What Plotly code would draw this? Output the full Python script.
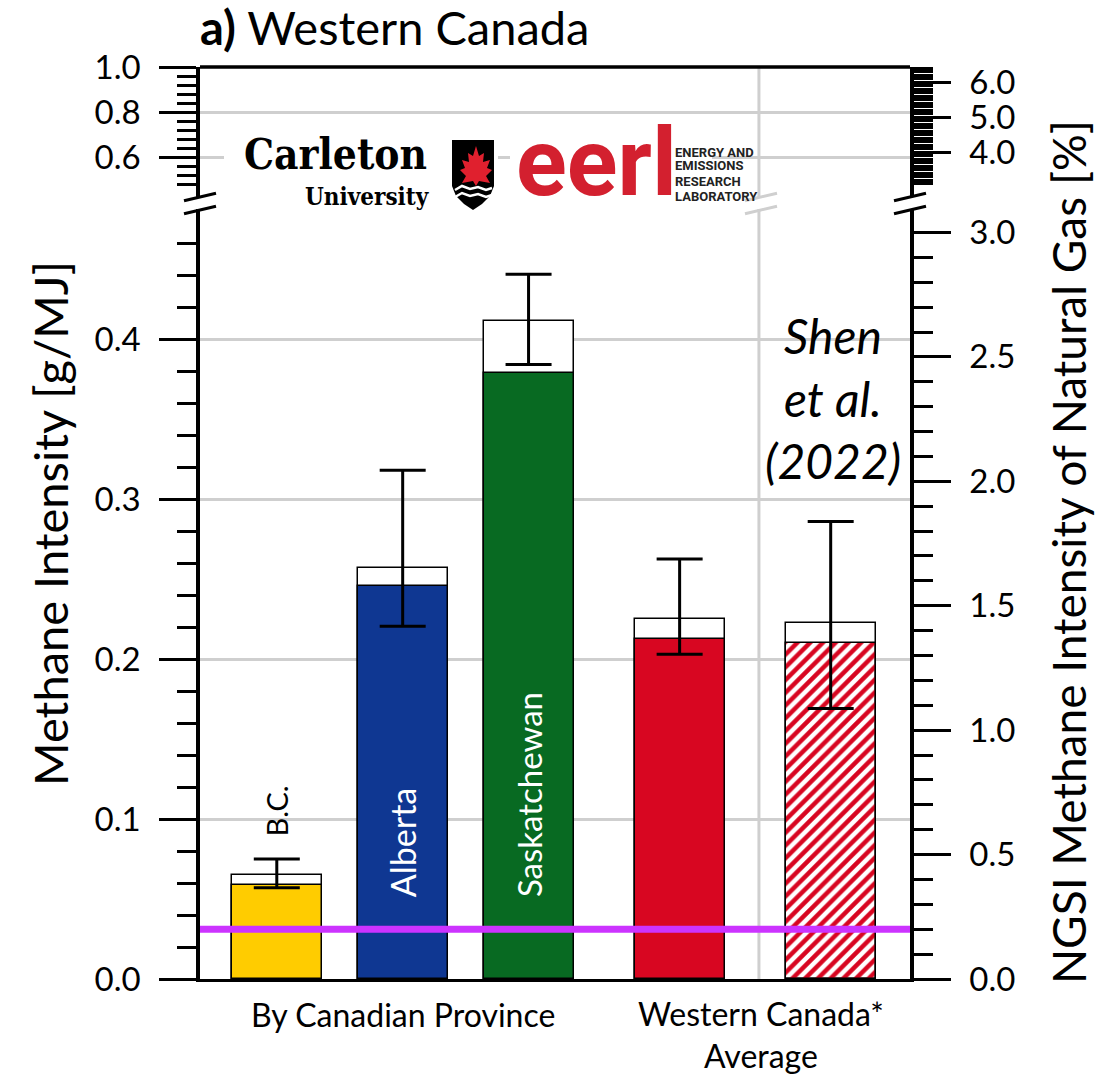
import numpy as np
import plotly.graph_objects as go

# ---- data -------------------------------------------------------------
categories = ["B.C.", "Alberta", "Saskatchewan", "Western Canada* Average", "Shen et al. (2022)"]
x_pos = [1.0, 2.0, 3.0, 4.2, 5.4]
intensity_base = [0.059, 0.2455, 0.379, 0.2125, 0.210]     # g/MJ, filled part
intensity_total = [0.065, 0.257, 0.411, 0.225, 0.2225]     # g/MJ, incl. white cap
err_low = [0.057, 0.2205, 0.384, 0.203, 0.169]
err_high = [0.075, 0.318, 0.4405, 0.2625, 0.286]
bar_colors = ["#FFCC00", "#0F3792", "#086A22", "#D80621", "#D80621"]
bar_patterns = ["", "", "", "", "/"]
ngsi_threshold_pct = 0.2          # NGSI reference line [%]
pct_per_gmj = 6.43                # g/MJ -> % of natural gas

left_lower_major = [0.0, 0.1, 0.2, 0.3, 0.4]
left_upper_major = [0.6, 0.8, 1.0]
right_lower_major = [0.0, 0.5, 1.0, 1.5, 2.0, 2.5, 3.0]
right_upper_major = [4.0, 5.0, 6.0]

group_labels = ["By Canadian Province", "Western Canada*<br>Average"]

# ---- geometry (pixels) ------------------------------------------------
W, H = 1107, 1074
PL, PR, PT, PB = 200, 910, 67, 979
UP_BOTTOM = 197      # bottom of the upper (broken) panel
LO_TOP = 209         # top of the lower panel


def px(x, y):
    """pixel position -> paper coordinates"""
    return (x - PL) / (PR - PL), (PB - y) / (PB - PT)


lower_dom = [0.0, px(0, LO_TOP)[1]]
upper_dom = [px(0, UP_BOTTOM)[1], 1.0]
lower_range = [0.0, (PB - LO_TOP) / 1600.0]
upper_range = [1.0 - (UP_BOTTOM - PT) / 225.0, 1.0]

left_lower_minor = [round(v, 2) for v in np.arange(0.02, 0.47, 0.02) if round(v, 2) not in left_lower_major]
left_upper_minor = [round(v, 2) for v in np.arange(0.48, 0.97, 0.04) if round(v, 2) not in left_upper_major]
right_lower_minor = [round(v, 1) for v in np.arange(0.1, 3.05, 0.1) if round(v, 1) not in right_lower_major]
right_upper_minor = [round(v, 1) for v in np.arange(3.1, 6.45, 0.1) if round(v, 1) not in right_upper_major]

FONT = "Lato, 'Open Sans', sans-serif"
NARROW = "'Liberation Sans Narrow', 'Roboto', sans-serif"
SLAB = "'DejaVu Serif Condensed', 'DejaVu Serif', serif"
TICKFONT = dict(family=FONT, size=33, color="black")
GRID = "#cfcfcf"
x_range = [0.39, 6.03]

fig = go.Figure()

# white caps (total) behind the filled bars
fig.add_trace(go.Bar(
    x=x_pos, y=intensity_total, width=0.714,
    marker=dict(color="white", line=dict(color="black", width=1.5)),
    xaxis="x", yaxis="y", showlegend=False, hoverinfo="skip",
))
fig.add_trace(go.Bar(
    x=x_pos, y=intensity_base, width=0.714,
    marker=dict(color=bar_colors, line=dict(color="black", width=1.5),
                pattern=dict(shape=bar_patterns, fgcolor="#D80621", bgcolor="white",
                             size=9, solidity=0.5, fillmode="replace")),
    xaxis="x", yaxis="y", showlegend=False, hovertext=categories,
))
# uncertainty ranges
fig.add_trace(go.Scatter(
    x=x_pos, y=intensity_total, mode="markers",
    marker=dict(size=1, color="rgba(0,0,0,0)"),
    error_y=dict(type="data", symmetric=False,
                 array=[h - t for h, t in zip(err_high, intensity_total)],
                 arrayminus=[t - l for t, l in zip(intensity_total, err_low)],
                 color="black", thickness=3, width=23),
    xaxis="x", yaxis="y", showlegend=False, hoverinfo="skip",
))
# empty helpers so every axis pair becomes a subplot
for ya in ["y2", "y3", "y4"]:
    fig.add_trace(go.Scatter(x=[None], y=[None], xaxis="x", yaxis=ya,
                             showlegend=False, hoverinfo="skip"))

common_y = dict(showline=True, linecolor="black", linewidth=3.5, ticks="outside",
                ticklen=37, tickwidth=3, tickcolor="black", tickformat=".1f",
                tickfont=TICKFONT, zeroline=False, anchor="x", tickmode="array",
                ticklabelstandoff=12)

fig.update_layout(
    width=W, height=H,
    margin=dict(l=PL, r=W - PR, t=PT, b=H - PB),
    paper_bgcolor="white", plot_bgcolor="rgba(0,0,0,0)",
    barmode="overlay", bargap=0,
    xaxis=dict(domain=[0, 1], range=x_range, anchor="y", showline=True, linecolor="black",
               linewidth=3, showticklabels=False, ticks="", showgrid=False, zeroline=False),
    yaxis=dict(domain=lower_dom, range=lower_range, side="left", tickvals=left_lower_major,
               showgrid=True, gridcolor=GRID, gridwidth=3,
               minor=dict(tickmode="array", tickvals=left_lower_minor, ticks="outside",
                          ticklen=19, tickwidth=3, tickcolor="black", showgrid=False),
               **common_y),
    yaxis2=dict(domain=upper_dom, range=upper_range, side="left", tickvals=left_upper_major,
                showgrid=True, gridcolor=GRID, gridwidth=3,
                minor=dict(tickmode="array", tickvals=left_upper_minor, ticks="outside",
                           ticklen=19, tickwidth=3, tickcolor="black", showgrid=False),
                **common_y),
    yaxis3=dict(overlaying="y", range=[r * pct_per_gmj for r in lower_range], side="right",
                tickvals=right_lower_major, showgrid=False,
                minor=dict(tickmode="array", tickvals=right_lower_minor, ticks="outside",
                           ticklen=19, tickwidth=3, tickcolor="black", showgrid=False),
                **common_y),
    yaxis4=dict(overlaying="y2", range=[r * pct_per_gmj for r in upper_range], side="right",
                tickvals=right_upper_major, showgrid=False,
                minor=dict(tickmode="array", tickvals=right_upper_minor, ticks="outside",
                           ticklen=19, tickwidth=3, tickcolor="black", showgrid=False),
                **common_y),
)

shapes = []
# top frame line
shapes.append(dict(type="line", xref="paper", yref="paper", x0=0, x1=1, y0=1, y1=1,
                   line=dict(color="black", width=3.5)))
# vertical divider between the two averages
for yr in ["y domain", "y2 domain"]:
    shapes.append(dict(type="line", xref="x", yref=yr, x0=4.83, x1=4.83, y0=0, y1=1,
                       line=dict(color=GRID, width=3), layer="below"))
# axis break marks
for xc, col in [(PL, "black"), (PR, "black"), (761, GRID)]:
    for yc in [197, 210]:
        a = px(xc - 16, yc + 3.8)
        b = px(xc + 16, yc - 3.8)
        shapes.append(dict(type="line", xref="paper", yref="paper", x0=a[0], y0=a[1],
                           x1=b[0], y1=b[1], line=dict(color=col, width=3)))
# logo backgrounds covering the grid
for (x0, y0, x1, y1) in [(224, 122, 498, 215), (510, 114, 712, 215)]:
    a, b = px(x0, y0), px(x1, y1)
    shapes.append(dict(type="rect", xref="paper", yref="paper", x0=a[0], y0=b[1], x1=b[0], y1=a[1],
                       fillcolor="white", line=dict(width=0), layer="above"))


def path(points, close=True):
    s = ""
    for i, (x, y) in enumerate(points):
        X, Y = px(x, y)
        s += ("M" if i == 0 else "L") + f"{X:.5f},{Y:.5f} "
    return s + ("Z" if close else "")


# shield
shield = [(452, 140), (494, 140), (494, 186), (490, 196), (482, 204), (473, 210),
          (464, 204), (456, 196), (452, 186)]
shapes.append(dict(type="path", xref="paper", yref="paper", path=path(shield),
                   fillcolor="black", line=dict(width=0), layer="above"))
leaf = [(476, 146), (479, 156), (484, 153), (483, 162), (490, 160), (487, 168), (492, 170),
        (486, 176), (490, 183), (479, 181), (476, 186), (473, 181), (462, 183), (466, 176),
        (460, 170), (465, 168), (462, 160), (469, 162), (468, 153), (473, 156)]
shapes.append(dict(type="path", xref="paper", yref="paper", path=path(leaf),
                   fillcolor="#E0202E", line=dict(width=0), layer="above"))
for yy in [188, 195]:
    wave = [(455, yy + 2), (462, yy - 2), (470, yy + 1), (478, yy - 1), (486, yy + 2), (492, yy)]
    shapes.append(dict(type="path", xref="paper", yref="paper", path=path(wave, close=False),
                       line=dict(color="white", width=2.5), layer="above"))

# NGSI reference line
shapes.append(dict(type="line", xref="x domain", yref="y3", x0=0, x1=1,
                   y0=ngsi_threshold_pct, y1=ngsi_threshold_pct,
                   line=dict(color="#CC33FF", width=7), layer="above"))
fig.update_layout(shapes=shapes)

ann = []


def add_text(text, x, y, size, color="black", family=FONT, xanchor="center", yanchor="middle",
             angle=0, xref="paper", yref="paper"):
    ann.append(dict(text=text, x=x, y=y, xref=xref, yref=yref, showarrow=False,
                    xanchor=xanchor, yanchor=yanchor, textangle=angle,
                    font=dict(family=family, size=size, color=color)))


# title
tx, ty = px(198, 27)
add_text("<b>a)</b> Western Canada", tx, ty, 47, xanchor="left")
# axis titles
add_text("Methane Intensity [g/MJ]", px(50, 0)[0], px(0, 524)[1], 47, angle=-90)
add_text("NGSI Methane Intensity of Natural Gas [%]", px(1068, 0)[0], px(0, 552)[1], 46, angle=-90)
# group labels below the axis
add_text(group_labels[0], px(403, 0)[0], px(0, 1014)[1], 32)
add_text(group_labels[1], px(761, 0)[0], px(0, 1034)[1], 32)
# bar labels
add_text(categories[0], x_pos[0], 0.088, 29, yanchor="bottom", angle=-90, xref="x", yref="y")
add_text(categories[1], x_pos[1], 0.05, 34, color="white", yanchor="bottom", angle=-90,
         xref="x", yref="y")
add_text(categories[2], x_pos[2], 0.05, 33, color="white", yanchor="bottom", angle=-90,
         xref="x", yref="y")
# literature reference
for line, yy in zip(["Shen", "et al.", "(2022)"], [335, 398, 460]):
    add_text(f"<i>{line}</i>", px(833, 0)[0], px(0, yy)[1], 48)

# logo texts
add_text("<b>Carleton</b>", px(335, 0)[0], px(0, 155)[1], 42, family=SLAB)
add_text("<b>University</b>", px(432, 0)[0], px(0, 196)[1], 24, family=SLAB, xanchor="right")
add_text("<b>eerl</b>", px(596, 0)[0], px(0, 163)[1], 94, color="#D3202F", family=NARROW)
for line, yy in zip(["ENERGY AND", "EMISSIONS", "RESEARCH", "LABORATORY"], [152, 166, 181, 196]):
    add_text(f"<b>{line}</b>", px(673, 0)[0], px(0, yy)[1], 13, color="#222222",
             family=NARROW, xanchor="left")

fig.update_layout(annotations=ann)
fig.write_html("out.html")
